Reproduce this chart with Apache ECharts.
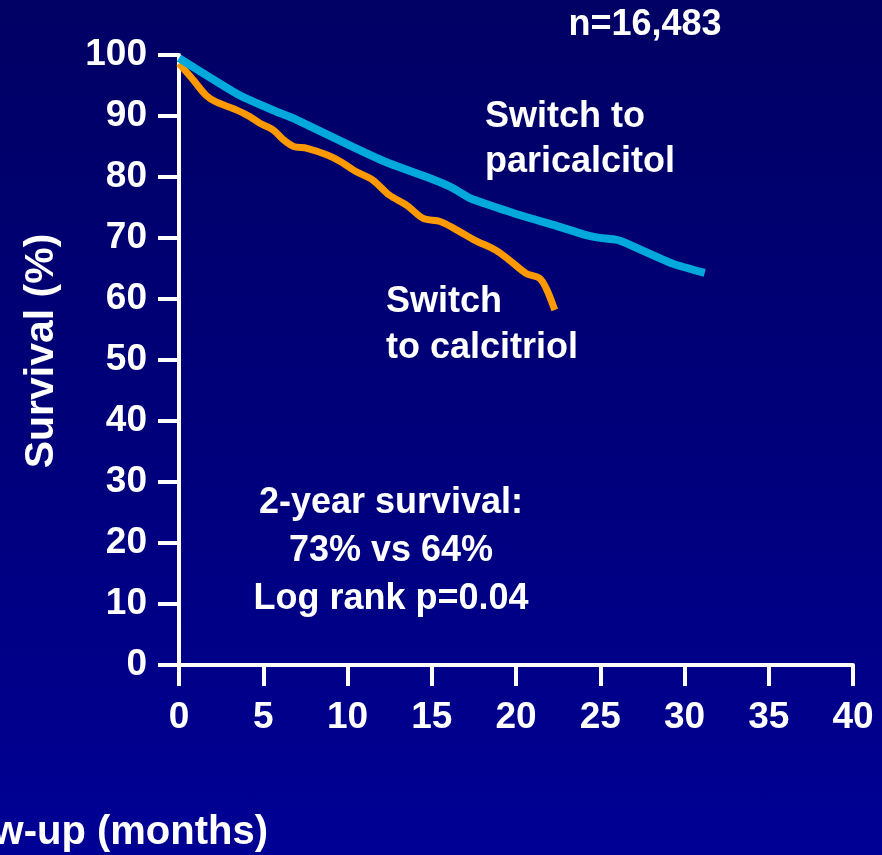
<!DOCTYPE html>
<html>
<head>
<meta charset="utf-8">
<script src="https://cdn.jsdelivr.net/npm/echarts@6/dist/echarts.min.js"></script>
<style>
  html, body { margin: 0; padding: 0; }
  #chart {
    width: 882px; height: 855px;
    background: linear-gradient(to bottom, #000064 0%, #00007a 50%, #000094 100%);
  }
</style>
</head>
<body>
<div id="chart"></div>
<script>
// Kaplan-Meier survival after switching vitamin D analogue
const parMonths   = [0, 3.6, 5.8, 6.8, 10.5, 12.5, 14.7, 16.1, 17.3, 18.1, 20.4, 22.4, 24.0, 24.8, 26.0, 26.5, 29.3, 31.2];
const parSurvival = [99.5, 93.4, 90.7, 89.6, 84.7, 82.2, 80.0, 78.4, 76.5, 75.7, 73.6, 72.0, 70.6, 70.1, 69.7, 69.2, 65.8, 64.3];

const calMonths   = [0, 0.85, 1.6, 2.2, 3.4, 4.2, 4.8, 5.6, 6.2, 6.8, 7.6, 8.8, 9.6, 10.5, 11.5, 12.5, 13.5, 14.5, 15.5, 16.5, 17.5, 18.8, 19.6, 20.6, 21.4, 21.8, 22.3];
const calSurvival = [98.6, 95.9, 93.4, 92.3, 91.0, 89.9, 88.8, 87.7, 86.1, 85.0, 84.7, 83.6, 82.5, 80.9, 79.5, 77.0, 75.4, 73.2, 72.7, 71.3, 69.7, 68.0, 66.4, 64.2, 63.4, 61.7, 58.2];

const xTicks = { min: 0, max: 40, step: 5 };
const yTicks = { min: 0, max: 100, step: 10 };

const FONT = '"Liberation Sans", Arial, sans-serif';
const pairs = (xs, ys) => xs.map((x, i) => [x, ys[i]]);

const chart = echarts.init(document.getElementById('chart'), null, { renderer: 'canvas' });

const axisCommon = {
  axisLine: { show: true, onZero: false, lineStyle: { color: '#ffffff', width: 4 } },
  axisTick: { show: true, inside: false, length: 21, lineStyle: { color: '#ffffff', width: 4 } },
  splitLine: { show: false },
};

chart.setOption({
  backgroundColor: 'transparent',
  animation: false,
  grid: { left: 179, top: 55, right: 29, bottom: 190, containLabel: false },
  xAxis: Object.assign({
    type: 'value',
    min: xTicks.min, max: xTicks.max, interval: xTicks.step,
    axisLabel: { color: '#ffffff', fontSize: 37, fontWeight: 'bold', fontFamily: FONT, margin: 34 },
  }, axisCommon),
  yAxis: Object.assign({
    type: 'value',
    min: yTicks.min, max: yTicks.max, interval: yTicks.step,
    axisLabel: { color: '#ffffff', fontSize: 37, fontWeight: 'bold', fontFamily: FONT, margin: 32 },
  }, axisCommon),
  series: [
    {
      name: 'Switch to paricalcitol',
      type: 'line',
      data: pairs(parMonths, parSurvival),
      showSymbol: false,
      smooth: 0.2,
      lineStyle: { color: '#00a8dc', width: 8, cap: 'butt', join: 'round' },
      z: 3,
    },
    {
      name: 'Switch to calcitriol',
      type: 'line',
      data: pairs(calMonths, calSurvival),
      showSymbol: false,
      smooth: 0.3,
      lineStyle: { color: '#ff9900', width: 7, cap: 'butt', join: 'round' },
      z: 2,
    },
  ],
  graphic: [
    {
      type: 'text', x: 645, y: 25,
      style: { text: 'n=16,483', fill: '#fff', font: 'bold 36px ' + FONT, align: 'center', verticalAlign: 'middle' },
    },
    {
      type: 'text', x: 485, y: 140,
      style: { text: 'Switch to\nparicalcitol', fill: '#fff', font: 'bold 36px ' + FONT, lineHeight: 45, align: 'left', verticalAlign: 'middle' },
    },
    {
      type: 'text', x: 386, y: 325,
      style: { text: 'Switch\nto calcitriol', fill: '#fff', font: 'bold 36px ' + FONT, lineHeight: 46, align: 'left', verticalAlign: 'middle' },
    },
    {
      type: 'text', x: 391, y: 551,
      style: { text: '2-year survival:\n73% vs 64%\nLog rank p=0.04', fill: '#fff', font: 'bold 36px ' + FONT, lineHeight: 48, align: 'center', verticalAlign: 'middle' },
    },
    {
      type: 'text', x: 42, y: 351, rotation: Math.PI / 2,
      style: { text: 'Survival (%)', fill: '#fff', font: 'bold 41px ' + FONT, align: 'center', verticalAlign: 'middle' },
    },
    {
      type: 'text', x: 268, y: 833,
      style: { text: 'Follow-up (months)', fill: '#fff', font: 'bold 40px ' + FONT, align: 'right', verticalAlign: 'middle' },
    },
  ],
});
</script>
</body>
</html>
